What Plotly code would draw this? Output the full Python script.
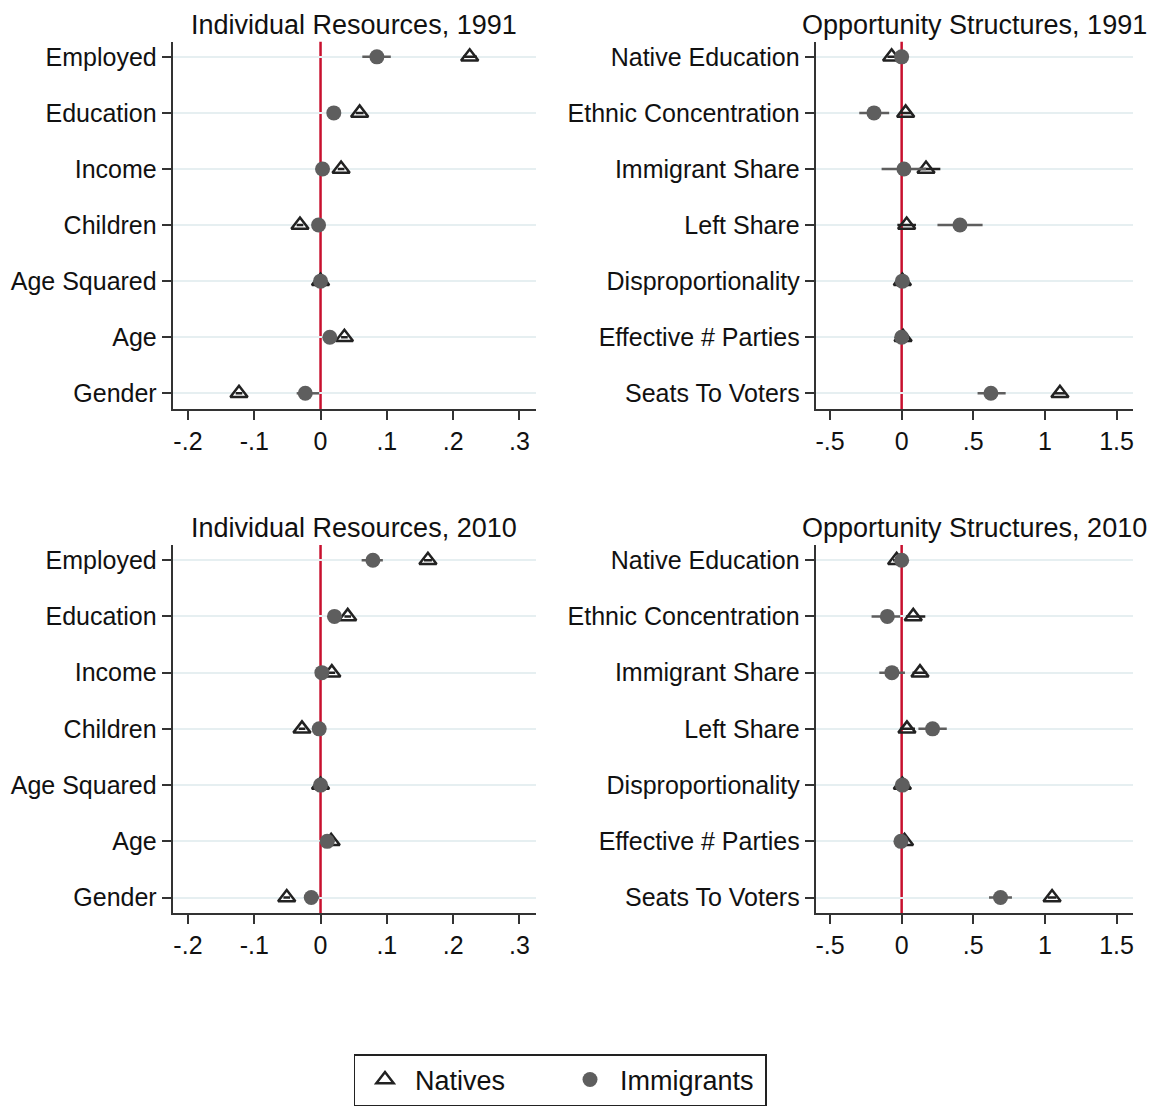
import plotly.graph_objects as go

# ---------------- data ----------------
ind_labels = ["Employed", "Education", "Income", "Children", "Age Squared", "Age", "Gender"]
opp_labels = ["Native Education", "Ethnic Concentration", "Immigrant Share", "Left Share",
              "Disproportionality", "Effective # Parties", "Seats To Voters"]

# Individual resources 1991
ind91_nat = [0.225, 0.059, 0.031, -0.031, 0.0, 0.036, -0.123]
ind91_nat_lo = [0.215, 0.053, 0.026, -0.036, -0.003, 0.031, -0.128]
ind91_nat_hi = [0.236, 0.065, 0.036, -0.026, 0.003, 0.041, -0.118]
ind91_imm = [0.085, 0.020, 0.003, -0.003, 0.0, 0.014, -0.023]
ind91_imm_lo = [0.063, 0.017, -0.001, -0.010, -0.003, 0.010, -0.036]
ind91_imm_hi = [0.106, 0.023, 0.006, 0.005, 0.003, 0.018, -0.002]

# Opportunity structures 1991
opp91_nat = [-0.07, 0.028, 0.17, 0.035, 0.005, 0.01, 1.105]
opp91_nat_lo = [-0.10, -0.01, 0.12, -0.03, -0.01, -0.01, 1.07]
opp91_nat_hi = [-0.04, 0.07, 0.27, 0.10, 0.02, 0.03, 1.14]
opp91_imm = [0.0, -0.193, 0.016, 0.407, 0.005, 0.0, 0.623]
opp91_imm_lo = [-0.02, -0.296, -0.14, 0.25, -0.01, -0.015, 0.53]
opp91_imm_hi = [0.02, -0.087, 0.17, 0.565, 0.02, 0.015, 0.726]

# Individual resources 2010
ind10_nat = [0.162, 0.041, 0.017, -0.028, 0.0, 0.016, -0.051]
ind10_nat_lo = [0.156, 0.036, 0.012, -0.033, -0.003, 0.011, -0.056]
ind10_nat_hi = [0.168, 0.046, 0.022, -0.023, 0.003, 0.021, -0.046]
ind10_imm = [0.079, 0.021, 0.002, -0.002, 0.0, 0.010, -0.014]
ind10_imm_lo = [0.062, 0.018, -0.001, -0.005, -0.003, 0.006, -0.025]
ind10_imm_hi = [0.094, 0.024, 0.005, 0.001, 0.003, 0.014, -0.002]

# Opportunity structures 2010
opp10_nat = [-0.035, 0.081, 0.128, 0.037, 0.005, 0.02, 1.05]
opp10_nat_lo = [-0.06, 0.03, 0.076, -0.012, -0.01, 0.0, 1.02]
opp10_nat_hi = [-0.01, 0.165, 0.178, 0.093, 0.02, 0.04, 1.08]
opp10_imm = [0.0, -0.10, -0.068, 0.216, 0.005, -0.005, 0.69]
opp10_imm_lo = [-0.015, -0.21, -0.156, 0.117, -0.01, -0.02, 0.61]
opp10_imm_hi = [0.015, -0.01, 0.023, 0.315, 0.02, 0.01, 0.77]

titles = ["Individual Resources, 1991", "Opportunity Structures, 1991",
          "Individual Resources, 2010", "Opportunity Structures, 2010"]

ind_ticks = [-0.2, -0.1, 0, 0.1, 0.2, 0.3]
ind_ticktext = ["-.2", "-.1", "0", ".1", ".2", ".3"]
opp_ticks = [-0.5, 0, 0.5, 1, 1.5]
opp_ticktext = ["-.5", "0", ".5", "1", "1.5"]

# ---------------- layout geometry ----------------
OFF = 8  # page body margin
W, H = 1163 - OFF, 1107 - OFF
def px_x(a, b):
    return [(a - OFF) / W, (b - OFF) / W]
def px_y(top, bottom):
    return [1 - (bottom - OFF) / H, 1 - (top - OFF) / H]

panels = [
    dict(lab=ind_labels, nat=ind91_nat, nlo=ind91_nat_lo, nhi=ind91_nat_hi,
         imm=ind91_imm, ilo=ind91_imm_lo, ihi=ind91_imm_hi,
         xd=px_x(172.7, 536), yd=px_y(41.7, 409), xr=[-0.223, 0.325],
         tv=ind_ticks, tt=ind_ticktext),
    dict(lab=opp_labels, nat=opp91_nat, nlo=opp91_nat_lo, nhi=opp91_nat_hi,
         imm=opp91_imm, ilo=opp91_imm_lo, ihi=opp91_imm_hi,
         xd=px_x(815.7, 1133), yd=px_y(41.7, 409), xr=[-0.6, 1.615],
         tv=opp_ticks, tt=opp_ticktext),
    dict(lab=ind_labels, nat=ind10_nat, nlo=ind10_nat_lo, nhi=ind10_nat_hi,
         imm=ind10_imm, ilo=ind10_imm_lo, ihi=ind10_imm_hi,
         xd=px_x(172.7, 536), yd=px_y(545, 913.3), xr=[-0.223, 0.325],
         tv=ind_ticks, tt=ind_ticktext),
    dict(lab=opp_labels, nat=opp10_nat, nlo=opp10_nat_lo, nhi=opp10_nat_hi,
         imm=opp10_imm, ilo=opp10_imm_lo, ihi=opp10_imm_hi,
         xd=px_x(815.7, 1133), yd=px_y(545, 913.3), xr=[-0.6, 1.615],
         tv=opp_ticks, tt=opp_ticktext),
]

FONT = "Liberation Sans, Arial, sans-serif"
fig = go.Figure()
layout = dict(
    width=W, height=H, margin=dict(l=0, r=0, t=0, b=0),
    paper_bgcolor="white", plot_bgcolor="white",
    font=dict(family=FONT, size=25, color="#111111"),
    showlegend=True,
    legend=dict(orientation="h", x=(560 - OFF) / W, xanchor="center",
                y=1 - (1054 - OFF) / H, yanchor="top",
                bordercolor="#222222", borderwidth=1.5, font=dict(size=27),
                entrywidth=140, entrywidthmode="pixels", itemsizing="trace",
                itemwidth=50),
)
annotations = []
shapes = []

for i, p in enumerate(panels):
    n = i + 1
    xa = "x" if n == 1 else f"x{n}"
    ya = "y" if n == 1 else f"y{n}"
    xkey = "xaxis" if n == 1 else f"xaxis{n}"
    ykey = "yaxis" if n == 1 else f"yaxis{n}"

    nat_plus = [h - v for h, v in zip(p["nhi"], p["nat"])]
    nat_minus = [v - l for l, v in zip(p["nlo"], p["nat"])]
    imm_plus = [h - v for h, v in zip(p["ihi"], p["imm"])]
    imm_minus = [v - l for l, v in zip(p["ilo"], p["imm"])]

    fig.add_trace(go.Scatter(
        x=p["nat"], y=p["lab"], mode="markers", name="Natives", xaxis=xa, yaxis=ya,
        showlegend=(i == 0), legendrank=1,
        marker=dict(symbol="triangle-up-open", size=15, color="#222222", line=dict(width=2.5, color="#222222")),
        error_x=dict(type="data", symmetric=False, array=nat_plus, arrayminus=nat_minus,
                     width=0, thickness=2.5, color="#222222"),
    ))
    fig.add_trace(go.Scatter(
        x=p["imm"], y=p["lab"], mode="markers", name="Immigrants", xaxis=xa, yaxis=ya,
        showlegend=(i == 0), legendrank=2,
        marker=dict(symbol="circle", size=15, color="#5e5e5e"),
        error_x=dict(type="data", symmetric=False, array=imm_plus, arrayminus=imm_minus,
                     width=0, thickness=2.5, color="#5e5e5e"),
    ))

    layout[xkey] = dict(
        domain=p["xd"], anchor=ya, range=p["xr"], tickmode="array",
        tickvals=p["tv"], ticktext=p["tt"], showgrid=False, zeroline=False,
        showline=True, linecolor="#333333", linewidth=2, ticks="outside",
        ticklen=9, tickwidth=1.5, tickcolor="#333333",
        tickfont=dict(size=25, family=FONT, color="#111111"),
    )
    layout[ykey] = dict(
        domain=p["yd"], anchor=xa, type="category",
        categoryorder="array", categoryarray=list(reversed(p["lab"])),
        range=[-0.28, 6.27], showgrid=True, gridcolor="#e6eff1", gridwidth=2,
        zeroline=False, showline=True, linecolor="#333333", linewidth=2,
        ticks="outside", ticklen=9, tickwidth=1.5, tickcolor="#333333",
        tickfont=dict(size=25, family=FONT, color="#111111"),
    )
    shapes.append(dict(type="line", xref=xa, yref=f"{ya} domain", x0=0, x1=0, y0=0, y1=1,
                       line=dict(color="#c8102e", width=2.5), layer="below"))
    annotations.append(dict(
        text=titles[i], xref="paper", yref="paper",
        x=(p["xd"][0] + p["xd"][1]) / 2, y=p["yd"][1], yanchor="bottom", xanchor="center",
        yshift=0, showarrow=False, font=dict(size=27, family=FONT, color="#111111"),
    ))

layout["annotations"] = annotations
layout["shapes"] = shapes
fig.update_layout(**layout)
fig.write_html("out.html")
